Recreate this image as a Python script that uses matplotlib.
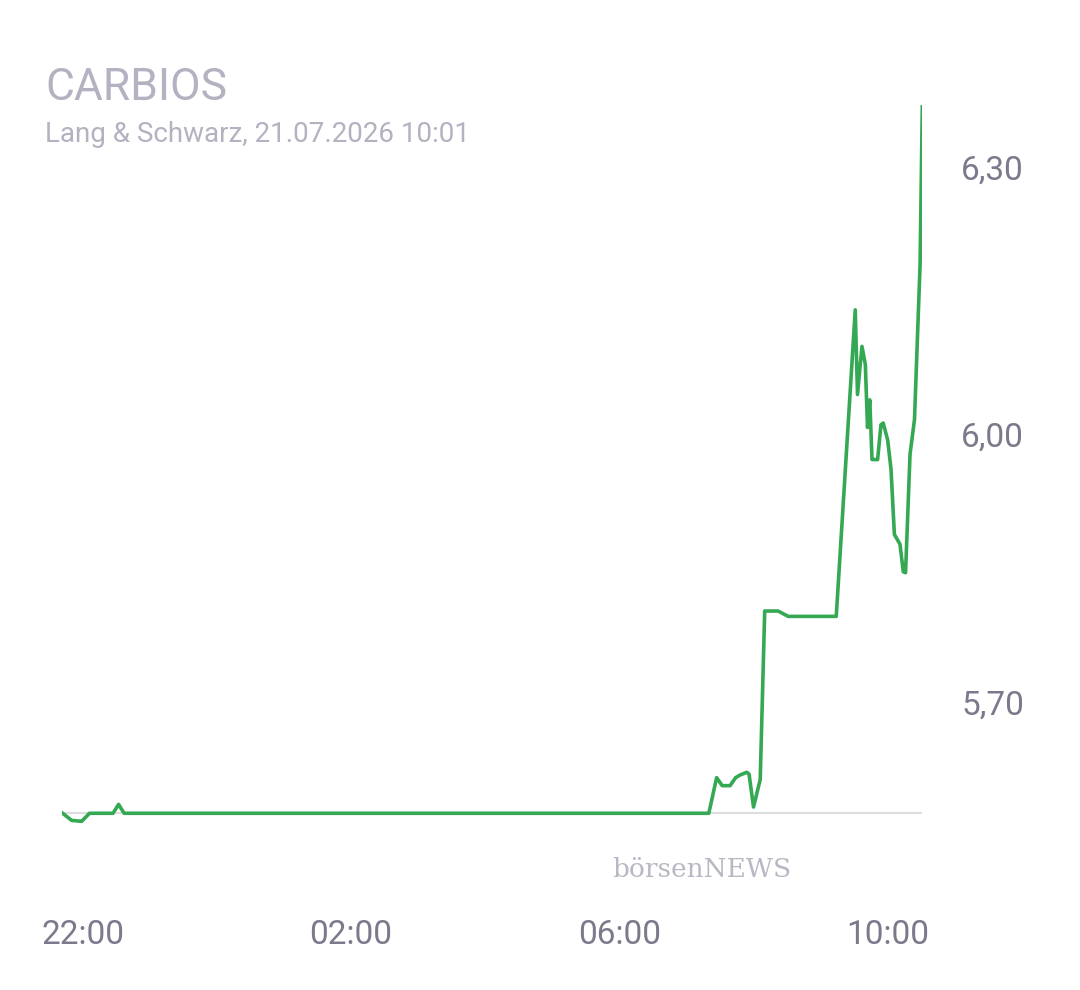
import matplotlib
matplotlib.use("Agg")
import matplotlib.pyplot as plt
from datetime import datetime

plt.rcParams['font.family'] = ['Roboto', 'DejaVu Sans']

times = ["21:41","21:50","21:59","22:06","22:27","22:32","22:37","07:20","07:27","07:32","07:39","07:44",
         "07:48","07:54","07:56","08:00","08:06","08:10","08:22","08:31","09:14","09:31","09:33","09:37",
         "09:40","09:42","09:44","09:46","09:51","09:54","09:56","10:00","10:03","10:06","10:11","10:14",
         "10:16","10:20","10:24","10:29","10:31"]
prices = [5.576,5.567,5.566,5.575,5.575,5.585,5.575,5.575,5.615,5.606,5.606,5.615,
          5.618,5.621,5.619,5.582,5.613,5.802,5.802,5.796,5.796,6.140,6.045,6.099,
          6.079,6.008,6.039,5.972,5.972,6.011,6.013,5.994,5.961,5.888,5.877,5.846,
          5.845,5.978,6.017,6.191,6.370]
prev_close = 5.575
yticks = [5.70, 6.00, 6.30]
ytick_labels = ["5,70", "6,00", "6,30"]
xtick_labels = ["22:00", "02:00", "06:00", "10:00"]

def to_dt(s):
    h, m = map(int, s.split(":"))
    day = 20 if h >= 12 else 21
    return datetime(2026, 7, day, h, m)

xs = [to_dt(t) for t in times]

fig = plt.figure(figsize=(10.8, 9.9), dpi=100)
ax = fig.add_axes([0.057, 0.111, 0.797, 0.783])
ax.axhline(prev_close, color="#dddddd", lw=1.5, zorder=1)
ax.plot(xs, prices, color="#34a853", lw=2.6, zorder=2)
ax.set_xlim(xs[0], xs[-1])
ax.set_ylim(5.50, 6.37)
for s in ax.spines.values():
    s.set_visible(False)
ax.yaxis.tick_right()
ax.set_yticks(yticks)
ax.set_yticklabels(ytick_labels)
ax.set_xticks([to_dt(t) for t in xtick_labels])
ax.set_xticklabels(xtick_labels)
ax.tick_params(length=0, labelsize=24, colors="#7b7a8c", pad=0)
ax.tick_params(axis="y", pad=28)
ax.tick_params(axis="x", pad=28)

fig.text(0.042, 0.911, "CARBIOS", fontsize=32, color="#b3b2c0", va="center")
fig.text(0.042, 0.864, "Lang & Schwarz, 21.07.2026 10:01", fontsize=20, color="#b3b2c0", va="center")
fig.text(0.567, 0.122, "börsenNEWS", fontsize=19, color="#b8b7c4", family="DejaVu Serif", va="center")

fig.savefig("out.png", dpi=100)
